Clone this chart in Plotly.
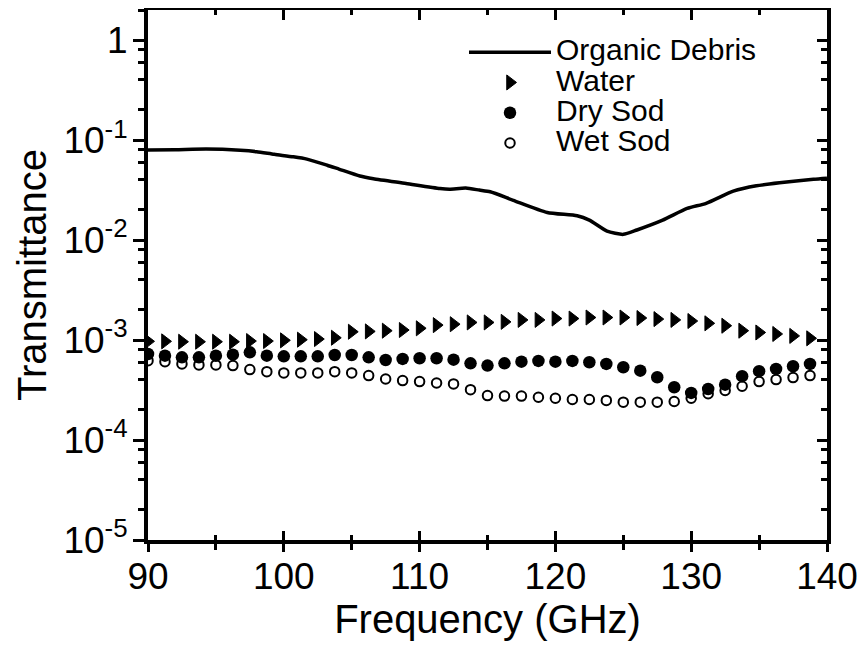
import plotly.graph_objects as go

# ---------------- data ----------------
marker_freq = [90 + 1.25 * k for k in range(40)]  # 90 .. 138.75 GHz

water = [9.70e-4, 9.70e-4, 9.62e-4, 9.62e-4, 9.62e-4, 9.62e-4, 9.77e-4, 9.77e-4,
         9.93e-4, 1.008e-3, 1.023e-3, 1.054e-3, 1.21e-3, 1.22e-3, 1.24e-3, 1.26e-3,
         1.31e-3, 1.41e-3, 1.44e-3, 1.50e-3, 1.50e-3, 1.52e-3, 1.59e-3, 1.59e-3,
         1.64e-3, 1.64e-3, 1.68e-3, 1.68e-3, 1.68e-3, 1.66e-3, 1.62e-3, 1.59e-3,
         1.55e-3, 1.47e-3, 1.39e-3, 1.24e-3, 1.19e-3, 1.15e-3, 1.10e-3, 1.04e-3]

dry_sod = [7.25e-4, 6.98e-4, 6.72e-4, 6.72e-4, 6.98e-4, 7.14e-4, 7.53e-4, 6.98e-4,
           6.87e-4, 6.87e-4, 6.87e-4, 7.08e-4, 7.08e-4, 6.72e-4, 6.32e-4, 6.47e-4,
           6.57e-4, 6.57e-4, 6.36e-4, 5.85e-4, 5.55e-4, 5.85e-4, 6.08e-4, 6.18e-4,
           6.08e-4, 6.18e-4, 6.00e-4, 5.77e-4, 5.34e-4, 4.94e-4, 4.24e-4, 3.37e-4,
           2.96e-4, 3.24e-4, 3.58e-4, 4.35e-4, 4.88e-4, 5.14e-4, 5.47e-4, 5.77e-4]

wet_sod = [6.22e-4, 6.08e-4, 5.77e-4, 5.64e-4, 5.64e-4, 5.55e-4, 5.06e-4, 4.83e-4,
           4.69e-4, 4.69e-4, 4.69e-4, 4.83e-4, 4.69e-4, 4.41e-4, 4.08e-4, 3.93e-4,
           3.84e-4, 3.72e-4, 3.64e-4, 3.19e-4, 2.78e-4, 2.75e-4, 2.75e-4, 2.68e-4,
           2.62e-4, 2.54e-4, 2.54e-4, 2.49e-4, 2.39e-4, 2.39e-4, 2.39e-4, 2.43e-4,
           2.62e-4, 2.90e-4, 3.13e-4, 3.45e-4, 3.84e-4, 4.02e-4, 4.21e-4, 4.41e-4]

debris_freq = [90, 92, 94.3, 96.8, 98, 99.3, 100.7, 101.7, 103.2, 104.1, 105.6, 106.6,
               109, 111.5, 112.2, 113.4, 114.4, 115.2, 116.9, 119.4, 121.6, 122.5,
               123.8, 125, 126, 127.9, 129.7, 131.1, 133.1, 134.8, 136.5, 139, 140]
debris = [0.0794, 0.0800, 0.0813, 0.0790, 0.0765, 0.0720, 0.0680, 0.0645, 0.0560,
          0.0510, 0.0437, 0.0410, 0.0368, 0.0328, 0.0323, 0.0331, 0.0316, 0.0304,
          0.0250, 0.0189, 0.0175, 0.0158, 0.0123, 0.0114, 0.0126, 0.0158, 0.0207,
          0.0233, 0.0308, 0.0349, 0.0374, 0.0405, 0.0415]

x_major = [90, 100, 110, 120, 130, 140]
x_minor = [95, 105, 115, 125, 135]
y_major = [1e-5, 1e-4, 1e-3, 1e-2, 1e-1, 1]
y_major_text = ["10<sup>-5</sup>", "10<sup>-4</sup>", "10<sup>-3</sup>",
                "10<sup>-2</sup>", "10<sup>-1</sup>", "1"]
y_minor = [m * d for d in [1e-5, 1e-4, 1e-3, 1e-2, 1e-1] for m in (2, 4, 6, 8)] + [2]

FONT = "Liberation Sans"
LEG_SPAN = '<span style="font-size:30px">{}</span>'

# page body has an 8px margin: the figure is sized/offset to compensate
W, H = 857, 641
ML, MR, MT, MB = 140, 38, 2, 109
PW, PH = W - ML - MR, H - MT - MB

fig = go.Figure()
# The organic-debris line lives on the frame axes (x3/y2) and water on x2/y;
# all axes share identical ranges, so positions are unchanged.
fig.add_trace(go.Scatter(x=debris_freq, y=debris, mode="lines", xaxis="x3", yaxis="y2",
                         line=dict(color="black", width=3.5, shape="spline", smoothing=0.6),
                         name=LEG_SPAN.format("Organic Debris")))
fig.add_trace(go.Scatter(x=marker_freq, y=water, mode="markers", xaxis="x2", yaxis="y",
                         marker=dict(symbol="triangle-right", size=13, color="black",
                                     line=dict(width=1, color="black")),
                         name=LEG_SPAN.format("Water")))
fig.add_trace(go.Scatter(x=marker_freq, y=dry_sod, mode="markers",
                         marker=dict(symbol="circle", size=12.5, color="black",
                                     line=dict(width=0)),
                         name=LEG_SPAN.format("Dry Sod")))
fig.add_trace(go.Scatter(x=marker_freq, y=wet_sod, mode="markers",
                         marker=dict(symbol="circle-open", size=9.5, color="black",
                                     line=dict(width=2, color="black")),
                         name=LEG_SPAN.format("Wet Sod")))

common_x = dict(range=[90, 140], tickmode="array", tickvals=x_major, automargin=False,
                tickcolor="black", tickwidth=3, showgrid=False, zeroline=False)
common_y = dict(type="log", range=[-5, 0.301], tickmode="array", tickvals=y_major,
                automargin=False,
                tickcolor="black", tickwidth=3, showgrid=False, zeroline=False)

fig.update_layout(
    width=W, height=H,
    margin=dict(l=ML, r=MR, t=MT, b=MB, autoexpand=False),
    paper_bgcolor="white", plot_bgcolor="white",
    font=dict(family=FONT, color="black"),
    showlegend=True,
    legend=dict(x=316 / PW, y=1 - 22 / PH, xanchor="left", yanchor="top",
                bgcolor="rgba(0,0,0,0)", borderwidth=0,
                font=dict(size=21, family=FONT, color="black"),
                itemwidth=82, tracegroupgap=0),
    xaxis=dict(**common_x, ticks="outside", ticklen=8,
               showline=True, linewidth=4, linecolor="black",
               tickfont=dict(size=37, family=FONT), ticklabelstandoff=-7,
               minor=dict(tickmode="array", tickvals=x_minor, ticks="outside",
                          ticklen=6, tickwidth=3, tickcolor="black", showgrid=False),
               title=dict(text="Frequency (GHz)", font=dict(size=40, family=FONT),
                          standoff=0)),
    xaxis2=dict(**common_x, overlaying="x", anchor="y", side="bottom",
                ticks="inside", ticklen=9, showticklabels=False, showline=False,
                minor=dict(tickmode="array", tickvals=x_minor, ticks="inside",
                           ticklen=5, tickwidth=3, tickcolor="black", showgrid=False)),
    xaxis3=dict(**common_x, overlaying="x", anchor="y2", side="top",
                ticks="inside", ticklen=10, showticklabels=False,
                showline=True, linewidth=4, linecolor="black",
                minor=dict(tickmode="array", tickvals=x_minor, ticks="inside",
                           ticklen=5, tickwidth=3, tickcolor="black", showgrid=False)),
    yaxis=dict(**common_y, ticktext=y_major_text, ticks="outside", ticklen=11,
               showline=True, linewidth=4, linecolor="black",
               tickfont=dict(size=37, family=FONT), ticklabelstandoff=-2,
               minor=dict(tickmode="array", tickvals=y_minor, ticks="outside",
                          ticklen=6, tickwidth=3, tickcolor="black", showgrid=False),
               title=dict(text="Transmittance", font=dict(size=40, family=FONT),
                          standoff=5)),
    yaxis2=dict(**common_y, overlaying="y", anchor="x3", side="right",
                ticks="inside", ticklen=10, showticklabels=False,
                showline=True, linewidth=4, linecolor="black",
                minor=dict(tickmode="array", tickvals=y_minor, ticks="inside",
                           ticklen=6, tickwidth=3, tickcolor="black", showgrid=False)),
)

fig.write_html("out.html")
